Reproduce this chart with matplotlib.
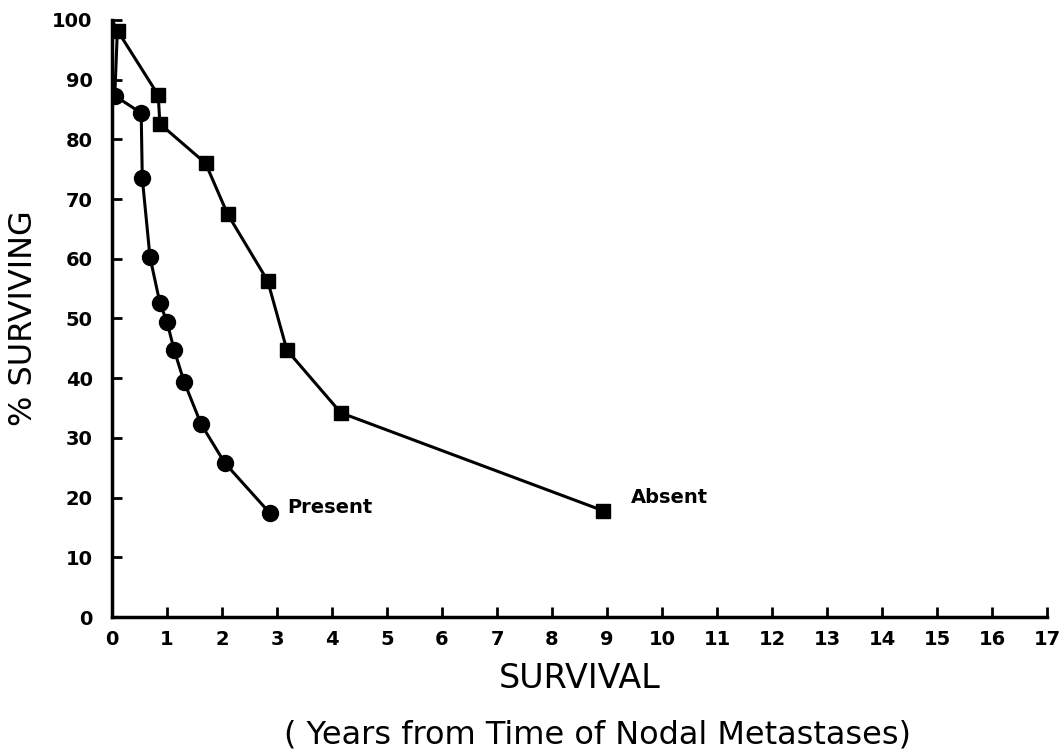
import numpy as np
import matplotlib.pyplot as plt

# years from time of nodal metastases / % surviving
present_x = [0.1, 0.05, 0.53, 0.55, 0.69, 0.87, 1.0, 1.13, 1.31, 1.62, 2.05, 2.87]
present_y = [99, 87.3, 84.4, 73.5, 60.3, 52.6, 49.4, 44.7, 39.4, 32.3, 25.8, 17.4]

absent_x = [0.0, 0.1, 0.84, 0.87, 1.7, 2.1, 2.83, 3.18, 4.16, 8.93]
absent_y = [100, 98.2, 87.4, 82.6, 76.0, 67.5, 56.3, 44.7, 34.2, 17.8]

xticks = list(range(0, 18))
yticks = list(range(0, 101, 10))

plt.rcParams['font.family'] = ['DejaVu Sans']

fig = plt.figure(figsize=(10.6, 7.52), dpi=100)
ax = fig.add_axes([0.1057, 0.1795, 0.882, 0.794])

ax.plot(present_x, present_y, color='black', lw=2.2, marker='o', ms=11.5,
        markevery=list(range(1, len(present_x))), zorder=3)
ax.plot(absent_x, absent_y, color='black', lw=2.2, marker='s', ms=10.5,
        markevery=list(range(1, len(absent_x))), zorder=3)

ax.text(present_x[-1] + 0.32, present_y[-1] + 1.0, 'Present', fontsize=14,
        fontweight='bold', va='center', ha='left')
ax.text(absent_x[-1] + 0.5, absent_y[-1] + 2.3, 'Absent', fontsize=14,
        fontweight='bold', va='center', ha='left')

ax.set_xlim(0, 17)
ax.set_ylim(0, 100)
ax.set_xticks(xticks)
ax.set_yticks(yticks)
ax.tick_params(direction='in', length=7, width=2, labelsize=14)
ax.tick_params(axis='x', pad=9)
ax.tick_params(axis='y', pad=14)
for lab in ax.get_xticklabels() + ax.get_yticklabels():
    lab.set_fontweight('bold')

for s in ['top', 'right']:
    ax.spines[s].set_visible(False)
for s in ['left', 'bottom']:
    ax.spines[s].set_linewidth(2.5)

fig.text(0.022, 0.577, '% SURVIVING', fontsize=23, rotation=90,
         ha='center', va='center')
fig.text(0.547, 0.098, 'SURVIVAL', fontsize=24, ha='center', va='center')
fig.text(0.564, 0.022, '( Years from Time of Nodal Metastases)', fontsize=23,
         ha='center', va='center')

fig.savefig('out.png', dpi=100)
